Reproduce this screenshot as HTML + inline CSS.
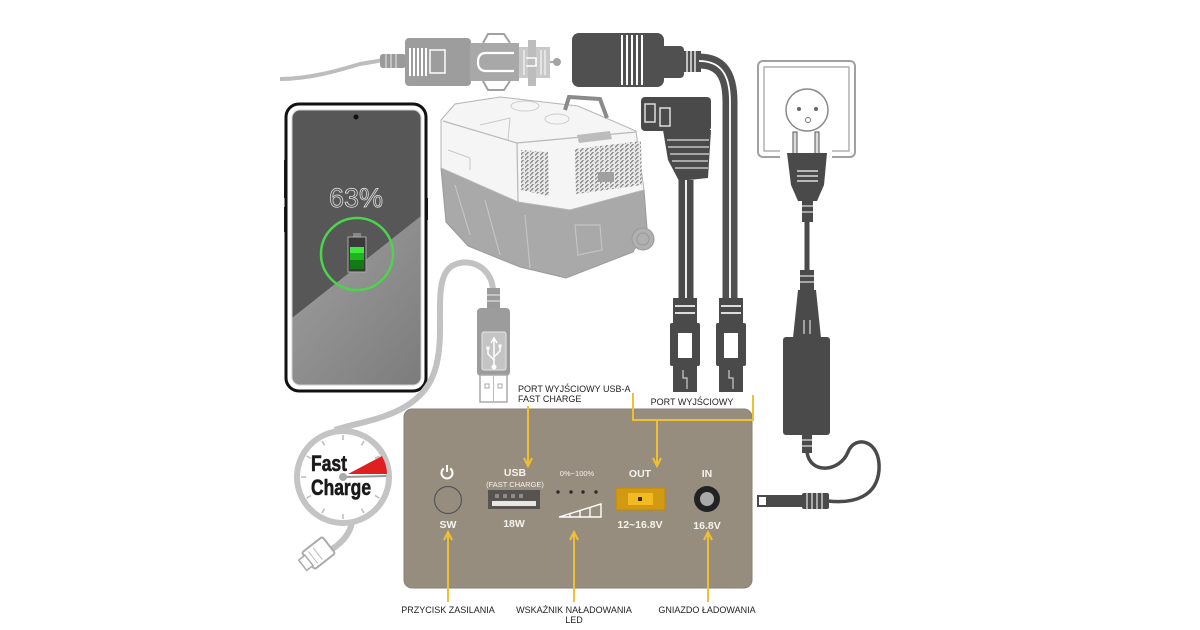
<!DOCTYPE html>
<html><head><meta charset="utf-8"><style>
html,body{margin:0;padding:0;background:#fff;}
svg{display:block;}
text{font-family:"Liberation Sans",sans-serif;}
</style></head><body>
<svg width="1200" height="630" viewBox="0 0 1200 630" xmlns="http://www.w3.org/2000/svg">
<defs>
<linearGradient id="scr" x1="0" y1="0" x2="1" y2="1">
 <stop offset="0" stop-color="#a0a0a0"/><stop offset="1" stop-color="#7c7c7c"/>
</linearGradient>
<pattern id="vent" width="5" height="4" patternUnits="userSpaceOnUse">
 <rect width="5" height="4" fill="#e8e8e8"/>
 <path d="M0 3.5 L3.5 0" stroke="#808080" stroke-width="1.2"/>
</pattern>
<clipPath id="scrclip"><rect x="292" y="110" width="129" height="275" rx="8"/></clipPath>
</defs>

<!-- top-left grey cable -->
<path d="M280 79 C 310 79, 340 70, 360 64 L 384 60" stroke="#bdbdbd" stroke-width="4" fill="none"/>
<!-- car plug -->
<rect x="380" y="54" width="26" height="14" rx="3" fill="#9a9a9a"/>
<path d="M386 54 V68 M391 54 V68 M396 54 V68" stroke="#ddd" stroke-width="1.2"/>
<rect x="405" y="38" width="66" height="48" rx="4" fill="#9d9d9d"/>
<path d="M410 48 V76 M414 48 V76 M418 48 V76 M422 48 V76 M426 48 V76" stroke="#fff" stroke-width="2"/>
<rect x="430" y="50" width="15" height="23" fill="none" stroke="#fff" stroke-width="1.5"/>
<path d="M483 43 L488 34 L504 34 L510 43" stroke="#a0a0a0" stroke-width="2" fill="none"/>
<path d="M483 81 L488 90 L504 90 L510 81" stroke="#a0a0a0" stroke-width="2" fill="none"/>
<rect x="470" y="43" width="49" height="38" fill="#a8a8a8"/>
<path d="M514 53 L486 53 Q478 53 478 62 Q478 71 486 71 L514 71" stroke="#fff" stroke-width="2.2" fill="none"/>
<rect x="519" y="47" width="31" height="31" fill="#c9c9c9"/>
<rect x="528" y="40" width="8" height="46" fill="#bdbdbd"/>
<path d="M524 50 V75 M541 50 V75 M545 50 V75" stroke="#eee" stroke-width="1.5"/>
<path d="M526 58 L536 58 L536 66 L526 66" stroke="#fff" stroke-width="1.5" fill="none"/>
<line x1="550" y1="62" x2="556" y2="62" stroke="#aaa" stroke-width="2"/>
<circle cx="557" cy="62" r="4" fill="#a5a5a5"/>

<!-- female socket -->
<rect x="572" y="33" width="92" height="54" rx="7" fill="#505050"/>
<path d="M622 35 V85 M627 35 V85 M632 35 V85 M637 35 V85 M642 35 V85" stroke="#fff" stroke-width="2"/>
<rect x="660" y="46" width="24" height="32" rx="4" fill="#505050"/>
<rect x="683" y="51" width="18" height="21" fill="#505050"/>
<path d="M687 51 V72 M691 51 V72 M695 51 V72" stroke="#fff" stroke-width="1.3"/>
<path d="M699 61 C 722 61, 730 76, 730 102 L 730 300" stroke="#505050" stroke-width="15" fill="none"/>
<path d="M699 61 C 722 61, 730 76, 730 102 L 730 300" stroke="#fff" stroke-width="1.8" fill="none"/>

<!-- cooler -->
<polygon points="441,168 518,202 570,210 644,190 647,228 633,252 566,278 520,267 468,246 446,222" fill="#a9a9a9" stroke="#9a9a9a"/>
<polygon points="441,120 455,104 500,97 578,106 636,131 644,190 570,210 518,202 441,168" fill="#f5f5f5" stroke="#b5b5b5"/>
<path d="M443 121 L517 143 L636 132 M517 143 L518 202" stroke="#b8b8b8" stroke-width="1.2" fill="none"/>
<path d="M448 150 L470 158 L470 170 M480 125 L510 118 L508 140" stroke="#c8c8c8" stroke-width="1" fill="none"/>
<ellipse cx="525" cy="106" rx="14" ry="5" fill="none" stroke="#ccc"/>
<ellipse cx="557" cy="119" rx="12" ry="5" fill="none" stroke="#ccc"/>
<polygon points="521,150 548,152 549,196 521,190" fill="url(#vent)"/>
<polygon points="575,149 641,141 642,185 576,194" fill="url(#vent)"/>
<rect x="598" y="172" width="16" height="10" fill="#a0a0a0"/>
<polygon points="577,135 610,131 612,139 579,143" fill="#bcbcbc"/>
<path d="M565 110 L569 97 L600 99 L607 118" stroke="#8a8a8a" stroke-width="4" fill="none"/>
<path d="M455 185 L470 235 M485 200 L500 255 M525 215 L530 268 M575 225 L600 225 L602 250 L578 255 Z" stroke="#c4c4c4" stroke-width="1.2" fill="none"/>
<circle cx="643" cy="239" r="11" fill="#b0b0b0" stroke="#999"/>
<circle cx="643" cy="239" r="6" fill="none" stroke="#999"/>

<!-- right-angle plug -->
<rect x="641" y="97" width="70" height="34" rx="4" fill="#4a4a4a"/>
<rect x="645" y="104" width="10" height="18" fill="#4a4a4a" stroke="#ddd" stroke-width="1.5"/>
<rect x="660" y="108" width="10" height="18" fill="#4a4a4a" stroke="#ddd" stroke-width="1.5"/>
<polygon points="663,130 711,130 708,178 679,181 668,160" fill="#4a4a4a"/>
<path d="M667 140 L709 140 M668 147 L709 147 M670 154 L709 154 M672 161 L708 161 M675 168 L708 168" stroke="#ddd" stroke-width="1.3"/>
<path d="M686 180 L686 300" stroke="#4a4a4a" stroke-width="15"/>
<path d="M686 180 L686 300" stroke="#fff" stroke-width="1.8"/>

<!-- bottom connectors -->
<g>
<rect x="673" y="298" width="24" height="26" fill="#4a4a4a"/>
<path d="M675 306 H695 M675 313 H695" stroke="#ddd" stroke-width="2"/>
<rect x="670" y="323" width="30" height="43" rx="2" fill="#4a4a4a"/>
<rect x="678" y="333" width="14" height="25" fill="#fff"/>
<rect x="673" y="366" width="24" height="26" fill="#4a4a4a"/>
<path d="M683 370 L683 378 L687 378 L687 389" stroke="#ccc" stroke-width="1.2" fill="none"/>
</g>
<g>
<rect x="719" y="298" width="24" height="26" fill="#4a4a4a"/>
<path d="M721 306 H741 M721 313 H741" stroke="#ddd" stroke-width="2"/>
<rect x="716" y="323" width="30" height="43" rx="2" fill="#4a4a4a"/>
<rect x="724" y="333" width="14" height="25" fill="#fff"/>
<rect x="719" y="366" width="24" height="26" fill="#4a4a4a"/>
<path d="M729 370 L729 378 L733 378 L733 389" stroke="#ccc" stroke-width="1.2" fill="none"/>
</g>

<!-- wall socket -->
<rect x="758" y="61" width="97" height="96" rx="5" fill="#fff" stroke="#a0a0a0" stroke-width="2"/>
<rect x="764" y="67" width="85" height="84" fill="none" stroke="#b0b0b0" stroke-width="1.5"/>
<circle cx="807" cy="110" r="21" fill="#fff" stroke="#8a8a8a" stroke-width="1.5"/>
<circle cx="799" cy="109" r="2" fill="#666"/>
<circle cx="816" cy="109" r="2" fill="#666"/>
<circle cx="808" cy="120" r="2.5" fill="none" stroke="#777"/>
<rect x="780" y="146" width="52" height="12" fill="#fff"/>
<rect x="793" y="132" width="4" height="22" fill="#ddd" stroke="#555"/>
<rect x="815" y="132" width="4" height="22" fill="#ddd" stroke="#555"/>
<path d="M787 153 L827 153 L824 185 L817 201 L798 201 L791 185 Z" fill="#4a4a4a"/>
<path d="M797 171 H818 M797 176 H818 M797 181 H818" stroke="#ddd" stroke-width="1.5"/>
<rect x="802" y="200" width="11" height="22" fill="#4a4a4a"/>
<path d="M802 206 H813 M802 212 H813" stroke="#ddd" stroke-width="1.2"/>
<line x1="807" y1="222" x2="807" y2="272" stroke="#4a4a4a" stroke-width="5"/>
<rect x="800" y="270" width="14" height="20" fill="#4a4a4a"/>
<path d="M800 276 H814 M800 282 H814" stroke="#ddd" stroke-width="1.2"/>
<path d="M798 290 L816 290 L821 338 L793 338 Z" fill="#4a4a4a"/>
<path d="M804 320 V334 M810 320 V334" stroke="#ddd" stroke-width="1.2"/>
<rect x="783" y="337" width="47" height="98" rx="3" fill="#4a4a4a"/>
<rect x="802" y="434" width="10" height="19" fill="#4a4a4a"/>
<path d="M802 440 H812 M802 446 H812" stroke="#ddd" stroke-width="1.2"/>
<path d="M807 452 C 810 475, 840 472, 848 452 C 855 434, 881 440, 879 470 C 877 496, 855 504, 828 501" stroke="#4a4a4a" stroke-width="3.5" fill="none"/>
<rect x="802" y="493" width="27" height="16" rx="2" fill="#4a4a4a"/>
<path d="M807 493 V509 M812 493 V509 M817 493 V509 M822 493 V509" stroke="#ddd" stroke-width="1.3"/>
<rect x="766" y="495" width="37" height="12" fill="#4a4a4a"/>
<path d="M766 496 L758 496 L758 506 L766 506" stroke="#4a4a4a" stroke-width="2" fill="none"/>

<!-- phone -->
<rect x="284" y="160" width="4" height="38" fill="#222"/>
<rect x="284" y="207" width="4" height="25" fill="#222"/>
<rect x="424" y="198" width="4" height="22" fill="#222"/>
<rect x="286" y="104" width="140" height="287" rx="13" fill="#fff" stroke="#111" stroke-width="3"/>
<g clip-path="url(#scrclip)">
<rect x="292" y="110" width="129" height="275" fill="#575757"/>
<polygon points="292,318 421,216 421,385 292,385" fill="url(#scr)"/>
</g>
<rect x="292" y="110" width="129" height="275" rx="8" fill="none" stroke="#cfcfcf" stroke-width="1"/>
<circle cx="356" cy="117" r="2.5" fill="#111"/>
<text x="356" y="207" text-anchor="middle" font-size="27" fill="#575757" stroke="#e8e8e8" stroke-width="0.7">63%</text>
<circle cx="357" cy="254" r="36" fill="none" stroke="#4cd44c" stroke-width="2.5"/>
<rect x="353" y="233" width="8" height="4" fill="#888"/>
<rect x="348" y="237" width="18" height="35" fill="#3a3a3a" stroke="#aaa" stroke-width="1"/>
<rect x="350" y="247" width="14" height="6" fill="#3ee83e"/>
<rect x="350" y="253" width="14" height="7" fill="#1fb41f"/>
<rect x="350" y="260" width="14" height="9" fill="#157a15"/>

<!-- USB cable -->
<path d="M493 290 C 492 268, 470 256, 452 266 C 438 275, 440 300, 440 330 C 440 372, 430 396, 395 412 C 372 422, 352 424, 335 430" stroke="#c2c2c2" stroke-width="6" fill="none"/>
<path d="M352 522 C 350 535, 340 545, 326 553" stroke="#c2c2c2" stroke-width="6" fill="none"/>
<!-- micro usb plug -->
<g transform="rotate(-38 318 554)">
<rect x="306" y="543" width="26" height="21" rx="2" fill="#fff" stroke="#aaa" stroke-width="2"/>
<rect x="299" y="547" width="8" height="13" fill="#fff" stroke="#aaa" stroke-width="1.5"/>
<path d="M312 546 V561 M318 546 V561" stroke="#bbb" stroke-width="1"/>
</g>
<!-- gauge -->
<circle cx="343" cy="477" r="46" fill="#fff" stroke="#c4c4c4" stroke-width="6"/>
<g stroke="#bbb" stroke-width="1.5">
<line x1="343" y1="435" x2="343" y2="440"/>
<line x1="364" y1="441" x2="361.5" y2="445.3"/>
<line x1="379.4" y1="456" x2="375" y2="458.5"/>
<line x1="343" y1="519" x2="343" y2="514"/>
<line x1="322" y1="513" x2="324.5" y2="508.7"/>
<line x1="306.6" y1="498" x2="311" y2="495.5"/>
<line x1="301" y1="477" x2="306" y2="477"/>
<line x1="306.6" y1="456" x2="311" y2="458.5"/>
<line x1="322" y1="441" x2="324.5" y2="445.3"/>
<line x1="364" y1="513" x2="361.5" y2="508.7"/>
<line x1="379.4" y1="498" x2="375" y2="495.5"/>
</g>
<path d="M348 474 L382 456 Q387 465 387 474 Z" fill="#e02020"/>
<line x1="343" y1="477" x2="386" y2="476" stroke="#999" stroke-width="2"/>
<circle cx="343" cy="477" r="4" fill="#aaa"/>
<text x="311" y="471" font-size="22" font-weight="bold" fill="#1a1a1a" stroke="#1a1a1a" stroke-width="0.6" textLength="36" lengthAdjust="spacingAndGlyphs" style="font-family:'Liberation Sans Narrow','Liberation Sans',sans-serif">Fast</text>
<text x="311" y="495" font-size="22" font-weight="bold" fill="#1a1a1a" stroke="#1a1a1a" stroke-width="0.6" textLength="60" lengthAdjust="spacingAndGlyphs" style="font-family:'Liberation Sans Narrow','Liberation Sans',sans-serif">Charge</text>

<!-- USB-A plug -->
<rect x="487" y="288" width="13" height="22" fill="#9a9a9a"/>
<path d="M487 295 H500 M487 301 H500" stroke="#ddd" stroke-width="1.3"/>
<rect x="477" y="308" width="33" height="68" rx="4" fill="#9c9c9c"/>
<rect x="482" y="332" width="24" height="38" rx="2" fill="#c4c4c4" stroke="#e6e6e6"/>
<g stroke="#fff" stroke-width="1.5" fill="none">
<path d="M494 340 V366"/>
<path d="M491 343 L494 338 L497 343"/>
<path d="M494 360 L488 354 L488 349"/>
<path d="M494 357 L500 351 L500 347"/>
</g>
<circle cx="494" cy="367" r="2.5" fill="#fff"/>
<circle cx="488" cy="348" r="1.8" fill="#fff"/>
<rect x="498.5" y="344.5" width="3" height="3" fill="#fff"/>
<rect x="480" y="375" width="27" height="27" fill="#fff" stroke="#aaa" stroke-width="1.5"/>
<line x1="493.5" y1="375" x2="493.5" y2="402" stroke="#bbb"/>
<rect x="485" y="384" width="4" height="4" fill="none" stroke="#aaa"/>
<rect x="498" y="384" width="4" height="4" fill="none" stroke="#aaa"/>

<!-- power bank panel -->
<rect x="404" y="409" width="348" height="179" rx="8" fill="#978d7f" stroke="#8a8173" stroke-width="1"/>
<!-- power icon -->
<path d="M443.8 468.5 A5.5 5.5 0 1 0 450.2 468.5" stroke="#fff" stroke-width="2" fill="none"/>
<line x1="447" y1="465" x2="447" y2="472" stroke="#fff" stroke-width="2"/>
<circle cx="448" cy="500" r="13.5" fill="#978d7f" stroke="#555" stroke-width="1.2"/>
<text x="448" y="528" text-anchor="middle" font-size="10.5" font-weight="bold" fill="#f6f3ec">SW</text>
<text x="515" y="476" text-anchor="middle" font-size="10.5" font-weight="bold" fill="#f6f3ec">USB</text>
<text x="515" y="487" text-anchor="middle" font-size="7.5" fill="#f6f3ec">(FAST CHARGE)</text>
<rect x="488" y="490" width="52" height="19" fill="#575350"/>
<rect x="492" y="501" width="44" height="5" fill="#e8e6e2"/>
<g fill="#8f8a84"><rect x="495" y="494" width="4" height="4"/><rect x="503" y="494" width="4" height="4"/><rect x="511" y="494" width="4" height="4"/><rect x="519" y="494" width="4" height="4"/></g>
<text x="514" y="527" text-anchor="middle" font-size="10.5" font-weight="bold" fill="#f6f3ec">18W</text>
<text x="577" y="476" text-anchor="middle" font-size="7.5" fill="#f6f3ec">0%~100%</text>
<g fill="#2a2a2a"><circle cx="558" cy="492" r="1.7"/><circle cx="571" cy="492" r="1.7"/><circle cx="583" cy="492" r="1.7"/><circle cx="596" cy="492" r="1.7"/></g>
<polygon points="559,517 601,504 601,517" fill="none" stroke="#fff" stroke-width="1.4"/>
<path d="M570 517 V513.6 M580 517 V510.5 M590 517 V507.4" stroke="#fff" stroke-width="1.4"/>
<text x="640" y="477" text-anchor="middle" font-size="10.5" font-weight="bold" fill="#f6f3ec">OUT</text>
<rect x="616" y="488" width="49" height="22" fill="#d29a12" stroke="#c08a0a"/>
<rect x="628" y="493" width="25" height="12" fill="#f2bb22"/>
<rect x="638" y="497" width="4" height="4" fill="#3a2a00"/>
<text x="640" y="528" text-anchor="middle" font-size="10.5" font-weight="bold" fill="#f6f3ec">12~16.8V</text>
<text x="707" y="477" text-anchor="middle" font-size="10.5" font-weight="bold" fill="#f6f3ec">IN</text>
<circle cx="707" cy="499" r="13" fill="#222"/>
<circle cx="707" cy="499" r="7" fill="#a9a9a9"/>
<text x="707" y="529" text-anchor="middle" font-size="10.5" font-weight="bold" fill="#f6f3ec">16.8V</text>

<!-- yellow connectors -->
<g stroke="#eec032" stroke-width="2" fill="none">
<path d="M528 406 V465"/>
<path d="M524 458 L528 466 L532 458"/>
<path d="M633 393 V420 H753 V395"/>
<path d="M657 420 V465"/>
<path d="M653 458 L657 466 L661 458"/>
<path d="M448 602 V533"/>
<path d="M444 540 L448 532 L452 540"/>
<path d="M574 602 V533"/>
<path d="M570 540 L574 532 L578 540"/>
<path d="M708 602 V533"/>
<path d="M704 540 L708 532 L712 540"/>
</g>

<!-- labels -->
<g font-size="9" fill="#222">
<text x="518" y="392">PORT WYJŚCIOWY USB-A</text>
<text x="518" y="402">FAST CHARGE</text>
<text x="692" y="405" text-anchor="middle">PORT WYJŚCIOWY</text>
<text x="448" y="613" text-anchor="middle">PRZYCISK ZASILANIA</text>
<text x="574" y="613" text-anchor="middle">WSKAŹNIK NAŁADOWANIA</text>
<text x="574" y="623" text-anchor="middle">LED</text>
<text x="707" y="613" text-anchor="middle">GNIAZDO ŁADOWANIA</text>
</g>
</svg>
</body></html>
